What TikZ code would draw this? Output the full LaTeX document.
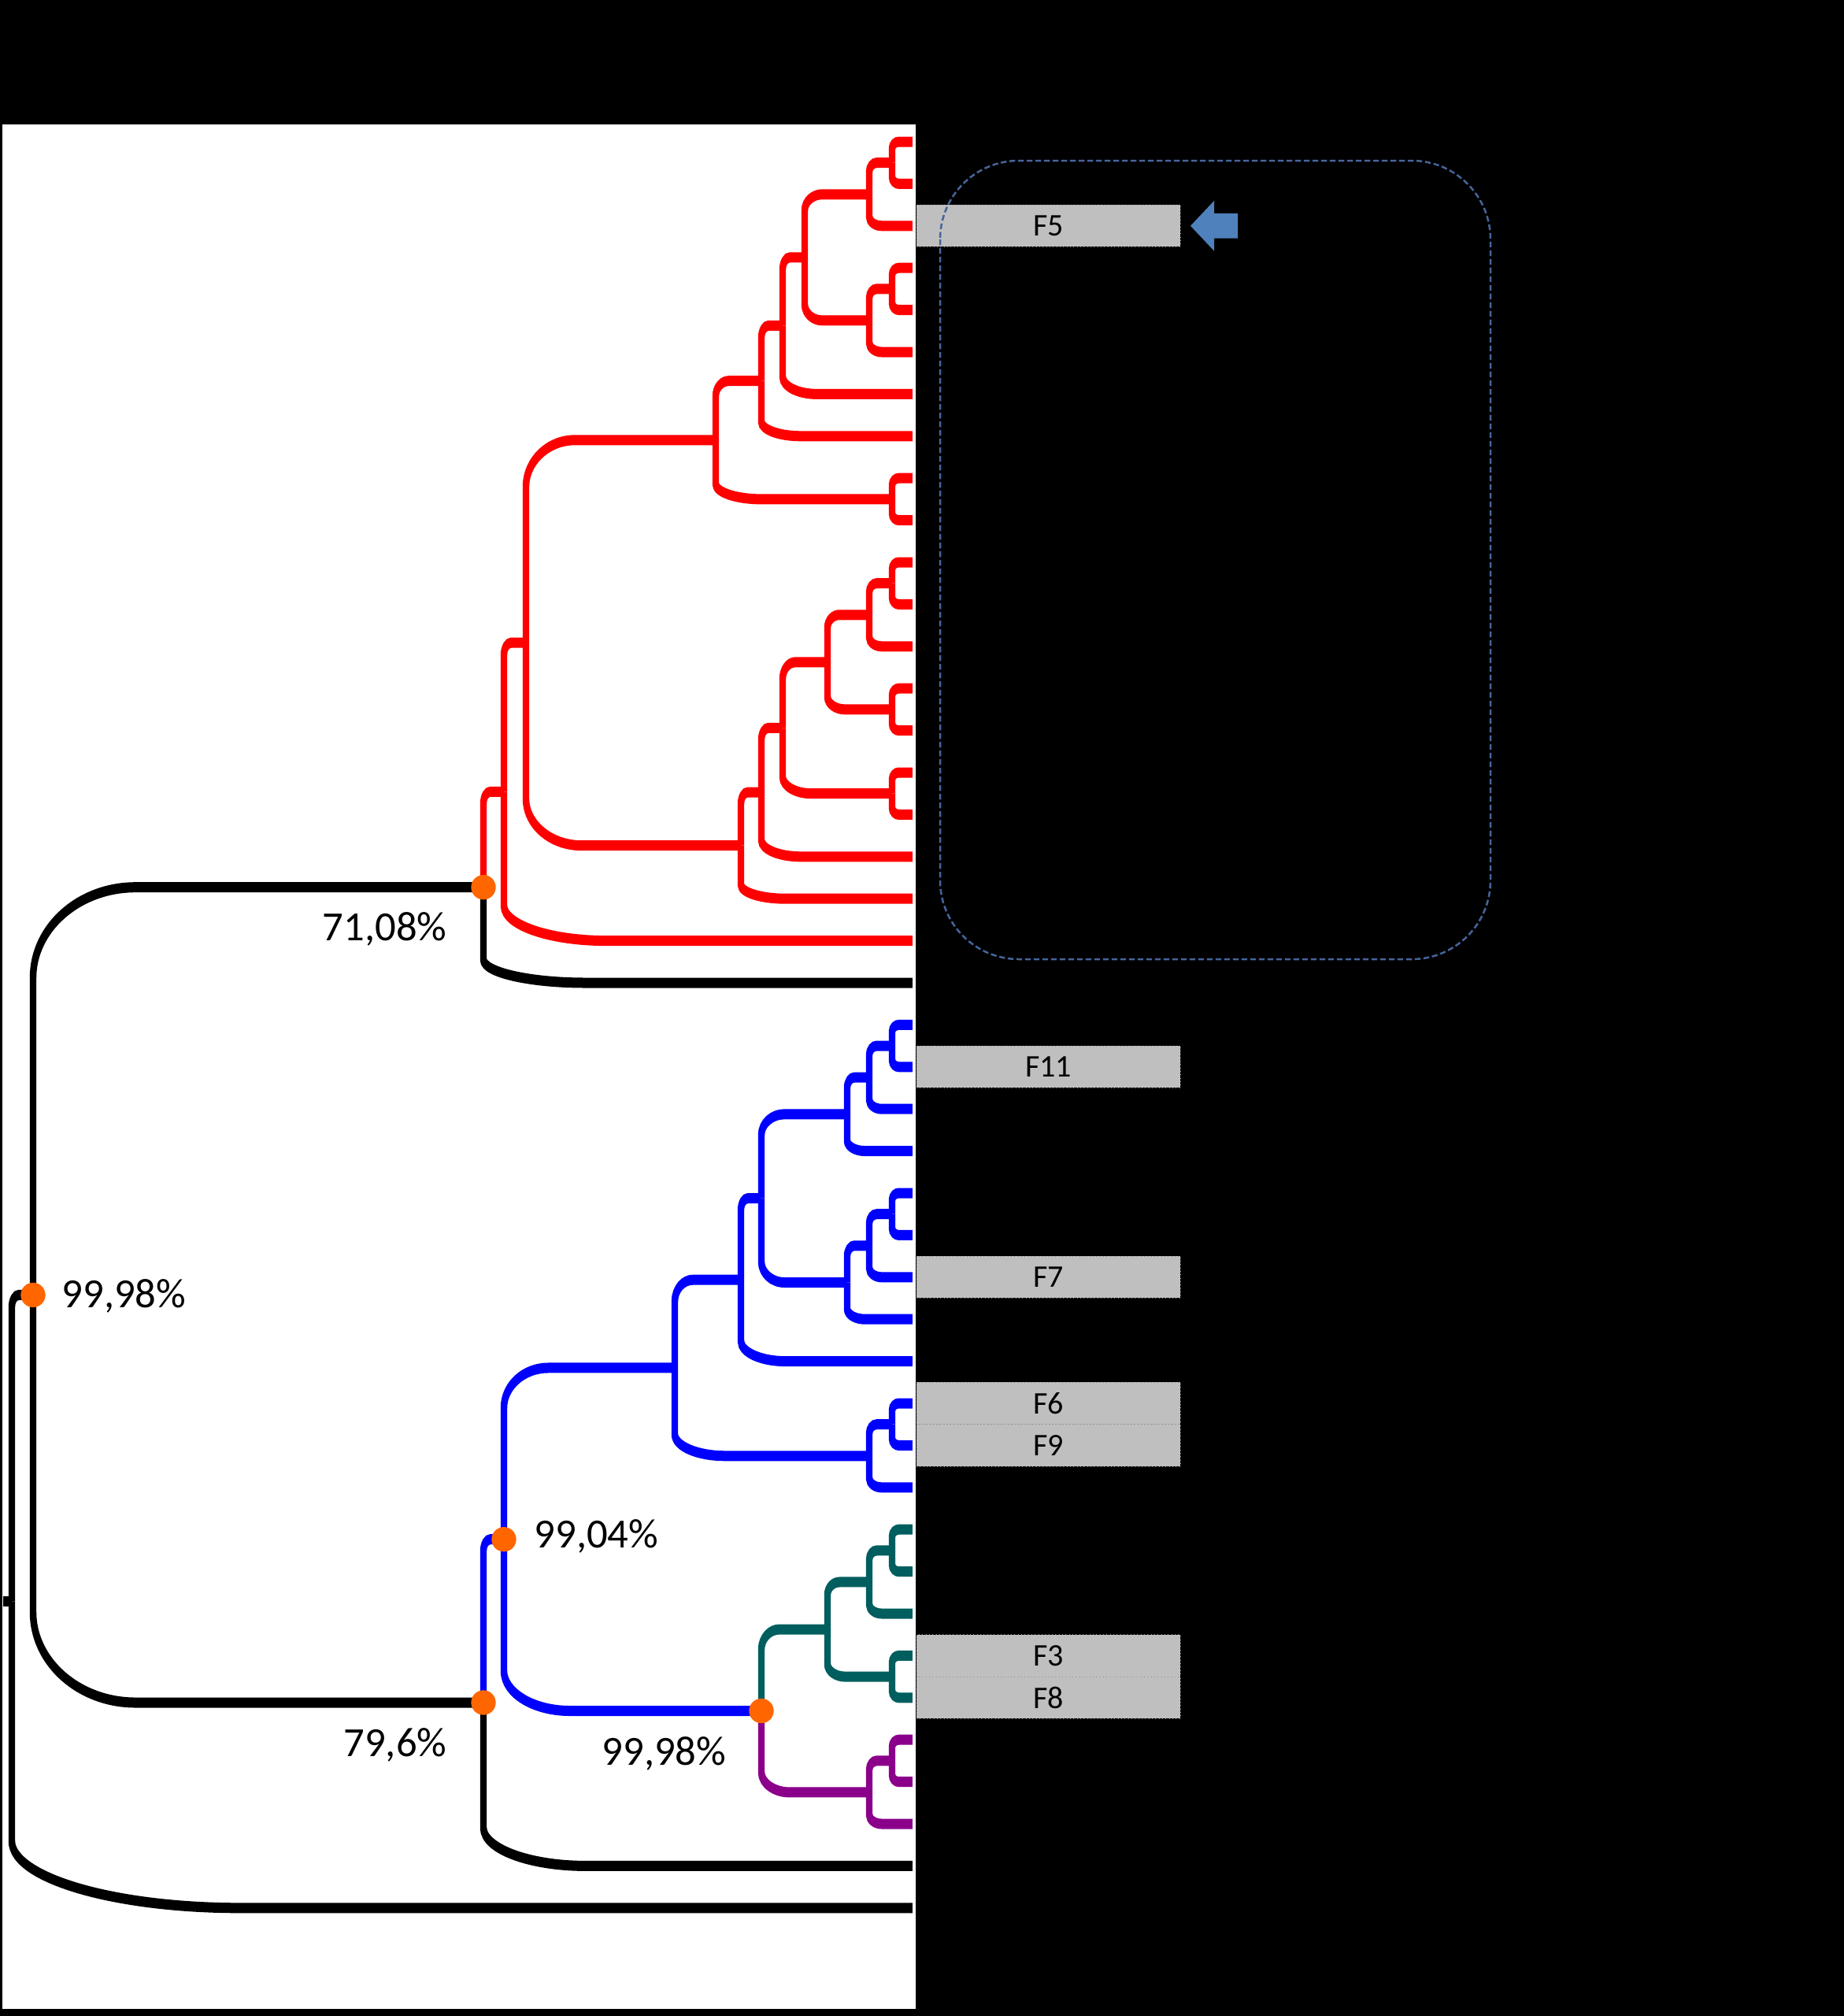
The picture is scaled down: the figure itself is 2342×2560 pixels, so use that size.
\documentclass[tikz,border=0pt]{standalone}
\usepackage{fontspec}
\setmainfont{Carlito}
\definecolor{cRed}{RGB}{255,0,0}
\definecolor{cBlue}{RGB}{0,0,255}
\definecolor{cTeal}{RGB}{0,94,94}
\definecolor{cPurp}{RGB}{139,0,139}
\definecolor{cOrange}{RGB}{255,102,0}
\definecolor{cGrey}{RGB}{191,191,191}
\definecolor{cDash}{RGB}{70,100,155}
\definecolor{cArrow}{RGB}{79,129,189}
\tikzset{
  tl/.style={line width=3.9pt},
  dot/.style={circle, fill=cOrange, inner sep=0pt, minimum size=9.4pt},
  lbl/.style={inner sep=0pt, font=\fontsize{15.8}{18}\selectfont},
  fbox/.style={fill=cGrey, draw=black!45, line width=0.3pt, densely dotted, inner sep=0pt,
    minimum width=100.5pt, minimum height=16pt, font=\fontsize{12}{14}\selectfont}
}
% branch with explicit corner radii: colour, parent x, parent y, child x, child y, rx, ry
\newcommand{\tbranchr}[7]{%
  \pgfmathsetmacro{\tbx}{#6}%
  \pgfmathsetmacro{\tby}{#7}%
  \pgfmathsetmacro{\tbs}{ifthenelse(#5>#3,1,-1)}%
  \pgfmathsetmacro{\tbya}{#5-\tbs*\tby}%
  \pgfmathsetmacro{\tbyb}{#5-\tbs*0.4477*\tby}%
  \pgfmathsetmacro{\tbxa}{#2+0.4477*\tbx}%
  \pgfmathsetmacro{\tbxb}{#2+\tbx}%
  \draw[tl,#1] (#2,#3) -- (#2,\tbya) .. controls (#2,\tbyb) and (\tbxa,#5) .. (\tbxb,#5) -- (#4,#5);%
}
% branch with automatic radii
\newcommand{\tbranch}[5]{%
  \pgfmathsetmacro{\tbrx}{min(0.25*(#4-#2)+2,130)}%
  \pgfmathsetmacro{\tbry}{min(0.22*abs(#5-#3)+3,1.3*\tbrx+4,115)}%
  \tbranchr{#1}{#2}{#3}{#4}{#5}{\tbrx}{\tbry}%
}
\begin{document}
\begin{tikzpicture}[x=0.3pt,y=-0.3pt]
\useasboundingbox (0,0) rectangle (2342,2560);
\fill[black] (0,0) rectangle (2342,2560);
\fill[white] (3,158) rectangle (1163,2551);

\begin{scope}[x=0.461538pt, y=-0.3pt, transform canvas={xscale=0.65}]
% root
\tbranch{black}{15}{2033.6}{42}{1644.4}
\tbranchr{black}{15}{2033.6}{1159}{2422.8}{290}{85}
\draw[tl,black] (4,2033.6) -- (15,2033.6);
\tbranch{black}{42}{1644.4}{614}{1126.7}
\tbranch{black}{42}{1644.4}{614}{2162}
% red clade
\tbranch{cRed}{1133}{206.7}{1159}{180}
\tbranch{cRed}{1133}{206.7}{1159}{233.4}
\tbranch{cRed}{1104}{246.75}{1133}{206.7}
\tbranch{cRed}{1104}{246.75}{1159}{286.8}
\tbranch{cRed}{1133}{366.9}{1159}{340.2}
\tbranch{cRed}{1133}{366.9}{1159}{393.6}
\tbranch{cRed}{1104}{406.95}{1133}{366.9}
\tbranch{cRed}{1104}{406.95}{1159}{447}
\tbranch{cRed}{1022}{326.85}{1104}{246.75}
\tbranch{cRed}{1022}{326.85}{1104}{406.95}
\tbranch{cRed}{994}{413.6}{1022}{326.85}
\tbranch{cRed}{994}{413.6}{1159}{500.4}
\tbranch{cRed}{967}{483.7}{994}{413.6}
\tbranch{cRed}{967}{483.7}{1159}{553.8}
\tbranch{cRed}{1133}{633.9}{1159}{607.2}
\tbranch{cRed}{1133}{633.9}{1159}{660.6}
\tbranch{cRed}{909}{558.8}{967}{483.7}
\tbranch{cRed}{909}{558.8}{1133}{633.9}
\tbranch{cRed}{1133}{740.7}{1159}{714}
\tbranch{cRed}{1133}{740.7}{1159}{767.4}
\tbranch{cRed}{1104}{780.75}{1133}{740.7}
\tbranch{cRed}{1104}{780.75}{1159}{820.8}
\tbranch{cRed}{1133}{900.9}{1159}{874.2}
\tbranch{cRed}{1133}{900.9}{1159}{927.6}
\tbranch{cRed}{1051}{840.8}{1104}{780.75}
\tbranch{cRed}{1051}{840.8}{1133}{900.9}
\tbranch{cRed}{1133}{1007.7}{1159}{981}
\tbranch{cRed}{1133}{1007.7}{1159}{1034.4}
\tbranch{cRed}{994}{924.3}{1051}{840.8}
\tbranch{cRed}{994}{924.3}{1133}{1007.7}
\tbranch{cRed}{967}{1006.05}{994}{924.3}
\tbranch{cRed}{967}{1006.05}{1159}{1087.8}
\tbranch{cRed}{941}{1073.6}{967}{1006.05}
\tbranch{cRed}{941}{1073.6}{1159}{1141.2}
\tbranch{cRed}{668}{816.2}{909}{558.8}
\tbranch{cRed}{668}{816.2}{941}{1073.6}
\tbranch{cRed}{640}{1005.4}{668}{816.2}
\tbranch{cRed}{640}{1005.4}{1159}{1194.6}
\tbranch{cRed}{614}{1126.7}{640}{1005.4}
\tbranch{black}{614}{1126.7}{1159}{1248}
% blue clade
\tbranch{cBlue}{1133}{1328.1}{1159}{1301.4}
\tbranch{cBlue}{1133}{1328.1}{1159}{1354.8}
\tbranch{cBlue}{1104}{1368.15}{1133}{1328.1}
\tbranch{cBlue}{1104}{1368.15}{1159}{1408.2}
\tbranch{cBlue}{1076}{1414.9}{1104}{1368.15}
\tbranch{cBlue}{1076}{1414.9}{1159}{1461.6}
\tbranch{cBlue}{1133}{1541.7}{1159}{1515}
\tbranch{cBlue}{1133}{1541.7}{1159}{1568.4}
\tbranch{cBlue}{1104}{1581.75}{1133}{1541.7}
\tbranch{cBlue}{1104}{1581.75}{1159}{1621.8}
\tbranch{cBlue}{1076}{1628.5}{1104}{1581.75}
\tbranch{cBlue}{1076}{1628.5}{1159}{1675.2}
\tbranch{cBlue}{967}{1521.7}{1076}{1414.9}
\tbranch{cBlue}{967}{1521.7}{1076}{1628.5}
\tbranch{cBlue}{941}{1625.15}{967}{1521.7}
\tbranch{cBlue}{941}{1625.15}{1159}{1728.6}
\tbranch{cBlue}{1133}{1808.7}{1159}{1782}
\tbranch{cBlue}{1133}{1808.7}{1159}{1835.4}
\tbranch{cBlue}{1104}{1848.75}{1133}{1808.7}
\tbranch{cBlue}{1104}{1848.75}{1159}{1888.8}
\tbranch{cBlue}{857}{1736.95}{941}{1625.15}
\tbranch{cBlue}{857}{1736.95}{1104}{1848.75}
% teal clade
\tbranch{cTeal}{1133}{1968.9}{1159}{1942.2}
\tbranch{cTeal}{1133}{1968.9}{1159}{1995.6}
\tbranch{cTeal}{1104}{2008.95}{1133}{1968.9}
\tbranch{cTeal}{1104}{2008.95}{1159}{2049}
\tbranch{cTeal}{1133}{2129.1}{1159}{2102.4}
\tbranch{cTeal}{1133}{2129.1}{1159}{2155.8}
\tbranch{cTeal}{1051}{2069}{1104}{2008.95}
\tbranch{cTeal}{1051}{2069}{1133}{2129.1}
% purple clade
\tbranch{cPurp}{1133}{2235.9}{1159}{2209.2}
\tbranch{cPurp}{1133}{2235.9}{1159}{2262.6}
\tbranch{cPurp}{1104}{2275.95}{1133}{2235.9}
\tbranch{cPurp}{1104}{2275.95}{1159}{2316}
\tbranch{cTeal}{967}{2172.5}{1051}{2069}
\tbranch{cPurp}{967}{2172.5}{1104}{2275.95}
% upper blue joins
\tbranch{cBlue}{640}{1954.7}{857}{1736.95}
\tbranch{cBlue}{640}{1954.7}{967}{2172.5}
\tbranch{cBlue}{614}{2162}{640}{1954.7}
\tbranch{black}{614}{2162}{1159}{2369.4}
\end{scope}

% support dots
\node[dot] (d7108) at (614,1126.7) {};
\node[dot] (d9998a) at (42,1644.4) {};
\node[dot] (d796) at (614,2162) {};
\node[dot] (d9904) at (640,1954.7) {};
\node[dot] (d9998b) at (967,2172.5) {};

% support labels
\node[lbl, anchor=west] (l9998a) at (78,1646) {99,98\%};
\node[lbl, anchor=east] (l7108) at (568,1180) {71,08\%};
\node[lbl, anchor=east] (l796) at (568,2216) {79,6\%};
\node[lbl, anchor=west] (l9904) at (678,1951) {99,04\%};
\node[lbl, anchor=west] (l9998b) at (764,2227) {99,98\%};

% highlighted rows
\node[fbox] (f5) at (1331.5,286.8) {F5};
\node[fbox] (f11) at (1331.5,1354.8) {F11};
\node[fbox] (f7) at (1331.5,1621.8) {F7};
\node[fbox] (f6) at (1331.5,1782) {F6};
\node[fbox] (f9) at (1331.5,1835.4) {F9};
\node[fbox] (f3) at (1331.5,2102.4) {F3};
\node[fbox] (f8) at (1331.5,2155.8) {F8};

% arrow pointing at F5
\fill[cArrow] (1512,286.8) -- (1542,255) -- (1542,271) -- (1572,271) -- (1572,302.6)
  -- (1542,302.6) -- (1542,318.6) -- cycle;

% dashed rounded frame
\draw[cDash, line width=0.75pt, dash pattern=on 2.2pt off 1.1pt, rounded corners=30pt]
  (1194,204) rectangle (1893,1218);
\end{tikzpicture}
\end{document}
